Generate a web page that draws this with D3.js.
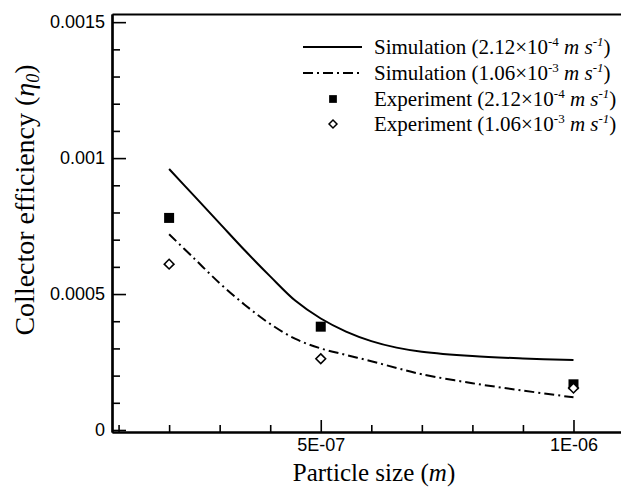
<!DOCTYPE html>
<html>
<head>
<meta charset="utf-8">
<script src="https://cdn.jsdelivr.net/npm/d3@7"></script>
<style>
  html, body { margin: 0; padding: 0; background: #fff; }
  svg { display: block; }
  .tick text { font-family: "Liberation Sans", Arial, sans-serif; font-size: 18px; fill: #000; }
  .serif { font-family: "Liberation Serif", "Times New Roman", serif; fill: #000; }
</style>
</head>
<body>
<svg id="chart" width="621" height="490"></svg>
<script>
// ─────────────────────────────────────────────
// data (particle size in m, efficiency eta_0)
// ─────────────────────────────────────────────
const simSizes   = [2e-7, 2.5e-7, 3e-7, 3.5e-7, 4e-7, 4.5e-7, 5e-7, 5.5e-7, 6e-7, 6.5e-7, 7e-7, 8e-7, 9e-7, 1e-6];
const simSlow    = [0.00096, 0.00086, 0.00076, 0.00066, 0.000565, 0.000475, 0.00041, 0.000362, 0.000327, 0.000303, 0.000288, 0.000272, 0.000263, 0.000257];
const simFast    = [0.00072, 0.00063, 0.00054, 0.00046, 0.00039, 0.000335, 0.000300, 0.000276, 0.000253, 0.000228, 0.000205, 0.000172, 0.000145, 0.00012];

const expSizes   = [2e-7, 5e-7, 1e-6];
const expSlow    = [0.00078, 0.00038, 0.000168];
const expFast    = [0.00061, 0.000262, 0.000154];

const yMajor     = [0, 0.0005, 0.001, 0.0015];
const yMajorText = ['0', '0.0005', '0.001', '0.0015'];
const xMajor     = [5e-7, 1e-6];
const xMajorText = ['5E-07', '1E-06'];

const legendItems = [
  { kind: 'solid',   label: 'Simulation', coef: '2.12', exp: '-4' },
  { kind: 'dashdot', label: 'Simulation', coef: '1.06', exp: '-3' },
  { kind: 'square',  label: 'Experiment', coef: '2.12', exp: '-4' },
  { kind: 'diamond', label: 'Experiment', coef: '1.06', exp: '-3' }
];

// ─────────────────────────────────────────────
// scales
// ─────────────────────────────────────────────
const svg = d3.select('#chart');
const plotL = 112, plotR = 621, plotT = 14, plotB = 432;

const x = d3.scaleLinear().domain([0.87e-7, 1.094e-6]).range([plotL, plotR]);
const y = d3.scaleLinear().domain([-0.0000074, 0.00153]).range([plotB, plotT]);

svg.append('rect').attr('width', 621).attr('height', 490).attr('fill', '#fff');

// ─────────────────────────────────────────────
// axes (inward ticks)
// ─────────────────────────────────────────────
const yMinor = d3.range(1, 15).map(i => i * 0.0001).filter(v => !yMajor.some(m => Math.abs(m - v) < 1e-9));
const xMinor = d3.range(1, 11).map(i => i * 1e-7).filter(v => !xMajor.some(m => Math.abs(m - v) < 1e-12));

function styleAxis(g) {
  g.select('.domain').attr('stroke', '#000').attr('stroke-width', 2.2);
  g.selectAll('.tick line').attr('stroke', '#000').attr('stroke-width', 1.6);
}

svg.append('g').attr('transform', `translate(${plotL},0)`)
  .call(d3.axisLeft(y).tickValues(yMinor).tickSize(-8).tickSizeOuter(0).tickFormat(''))
  .call(styleAxis);
svg.append('g').attr('transform', `translate(${plotL},0)`)
  .call(d3.axisLeft(y).tickValues(yMajor).tickSize(-14).tickSizeOuter(0).tickPadding(7)
    .tickFormat((d, i) => yMajorText[i]))
  .call(styleAxis);

svg.append('g').attr('transform', `translate(0,${plotB})`)
  .call(d3.axisBottom(x).tickValues(xMinor).tickSize(-7).tickSizeOuter(0).tickFormat(''))
  .call(styleAxis);
svg.append('g').attr('transform', `translate(0,${plotB})`)
  .call(d3.axisBottom(x).tickValues(xMajor).tickSize(-12).tickSizeOuter(0).tickPadding(6)
    .tickFormat((d, i) => xMajorText[i]))
  .call(styleAxis);

// top frame line
svg.append('g').attr('transform', `translate(0,${plotT})`)
  .call(d3.axisTop(x).tickValues([]).tickSizeOuter(0))
  .call(styleAxis);

// ─────────────────────────────────────────────
// axis titles
// ─────────────────────────────────────────────
const xt = svg.append('text').attr('class', 'serif')
  .attr('x', 374).attr('y', 481).attr('text-anchor', 'middle').style('font-size', '25px');
xt.append('tspan').text('Particle size (');
xt.append('tspan').style('font-style', 'italic').text('m');
xt.append('tspan').text(')');

const yt = svg.append('text').attr('class', 'serif')
  .attr('transform', 'translate(34,200) rotate(-90)')
  .attr('text-anchor', 'middle').style('font-size', '28px');
yt.append('tspan').text('Collector efficiency (');
yt.append('tspan').style('font-style', 'italic').text('η');
yt.append('tspan').style('font-style', 'italic').style('font-size', '18px').attr('dy', 5).text('0');
yt.append('tspan').attr('dy', -5).text(')');

// ─────────────────────────────────────────────
// curves
// ─────────────────────────────────────────────
const line = d3.line().curve(d3.curveCatmullRom).x(d => x(d[0])).y(d => y(d[1]));

svg.append('path').datum(d3.zip(simSizes, simSlow))
  .attr('d', line).attr('fill', 'none').attr('stroke', '#000').attr('stroke-width', 2);
svg.append('path').datum(d3.zip(simSizes, simFast))
  .attr('d', line).attr('fill', 'none').attr('stroke', '#000').attr('stroke-width', 2)
  .attr('stroke-dasharray', '10,4,2,4');

// ─────────────────────────────────────────────
// experiment markers
// ─────────────────────────────────────────────
const sqSym = d3.symbol().type(d3.symbolSquare).size(100);
const diSym = d3.symbol().type(d3.symbolDiamond2).size(60);

svg.selectAll('.exp-slow').data(d3.zip(expSizes, expSlow)).join('path')
  .attr('class', 'exp-slow')
  .attr('d', sqSym)
  .attr('transform', d => `translate(${x(d[0])},${y(d[1])})`)
  .attr('fill', '#000');

svg.selectAll('.exp-fast').data(d3.zip(expSizes, expFast)).join('path')
  .attr('class', 'exp-fast')
  .attr('d', diSym)
  .attr('transform', d => `translate(${x(d[0])},${y(d[1])})`)
  .attr('fill', '#fff').attr('stroke', '#000').attr('stroke-width', 1.6);

// ─────────────────────────────────────────────
// legend
// ─────────────────────────────────────────────
const legendRows = [47, 73, 99, 124];
const lg = svg.append('g');
legendItems.forEach((it, i) => {
  const cy = legendRows[i];
  if (it.kind === 'solid' || it.kind === 'dashdot') {
    lg.append('line').attr('x1', 303).attr('x2', 362).attr('y1', cy).attr('y2', cy)
      .attr('stroke', '#000').attr('stroke-width', 2)
      .attr('stroke-dasharray', it.kind === 'dashdot' ? '10,4,2,4' : null);
  } else if (it.kind === 'square') {
    lg.append('path').attr('d', d3.symbol().type(d3.symbolSquare).size(60))
      .attr('transform', `translate(333,${cy})`).attr('fill', '#000');
  } else {
    lg.append('path').attr('d', d3.symbol().type(d3.symbolDiamond2).size(40))
      .attr('transform', `translate(333,${cy})`)
      .attr('fill', '#fff').attr('stroke', '#000').attr('stroke-width', 1.5);
  }
  const t = lg.append('text').attr('class', 'serif')
    .attr('x', 374).attr('y', cy + 7).style('font-size', '21px');
  t.append('tspan').text(`${it.label} (${it.coef}×10`);
  t.append('tspan').attr('dy', -8).style('font-size', '13px').text(it.exp);
  t.append('tspan').attr('dy', 8).text(' ');
  t.append('tspan').style('font-style', 'italic').text('m s');
  t.append('tspan').attr('dy', -8).style('font-size', '13px').style('font-style', 'italic').text('-1');
  t.append('tspan').attr('dy', 8).text(')');
});
</script>
</body>
</html>
